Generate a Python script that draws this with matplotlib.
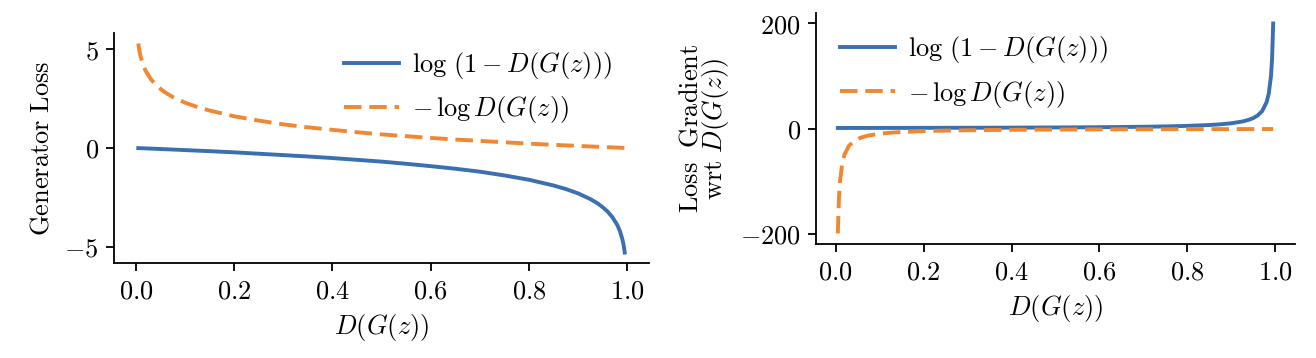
import matplotlib
matplotlib.use("Agg")
import matplotlib.pyplot as plt
from matplotlib.ticker import FuncFormatter, FixedLocator

plt.rcParams['mathtext.fontset'] = 'cm'
plt.rcParams['font.family'] = ['DejaVu Serif']
plt.rcParams['font.size'] = 19

# x values: D(G(z))
d_values = [0.005, 0.0075, 0.01, 0.015, 0.02, 0.03, 0.04, 0.05, 0.06, 0.075, 0.1,
            0.125, 0.15, 0.2, 0.25, 0.3, 0.35, 0.4, 0.45, 0.5, 0.55, 0.6, 0.65,
            0.7, 0.75, 0.8, 0.85, 0.875, 0.9, 0.925, 0.94, 0.95, 0.96, 0.97, 0.98,
            0.985, 0.99, 0.9925, 0.995]

# left panel: generator loss
loss_sat = [-0.005, -0.0075, -0.010, -0.015, -0.020, -0.030, -0.041, -0.051, -0.062, -0.078, -0.105,
            -0.134, -0.16, -0.22, -0.29, -0.36, -0.43, -0.51, -0.60, -0.69, -0.80, -0.92, -1.05,
            -1.20, -1.39, -1.61, -1.90, -2.08, -2.30, -2.59, -2.81, -3.00, -3.22, -3.51, -3.91,
            -4.20, -4.61, -4.89, -5.30]
loss_nonsat = [5.30, 4.89, 4.61, 4.20, 3.91, 3.51, 3.22, 3.00, 2.81, 2.59, 2.30,
               2.08, 1.90, 1.61, 1.39, 1.20, 1.05, 0.92, 0.80, 0.69, 0.60, 0.51, 0.43,
               0.36, 0.29, 0.22, 0.16, 0.134, 0.105, 0.078, 0.062, 0.051, 0.041, 0.030, 0.020,
               0.015, 0.010, 0.0075, 0.005]

# right panel: loss gradient
grad_sat = [1.005, 1.008, 1.01, 1.015, 1.02, 1.03, 1.04, 1.05, 1.06, 1.08, 1.11,
            1.14, 1.18, 1.25, 1.33, 1.43, 1.54, 1.67, 1.82, 2.0, 2.22, 2.5, 2.86,
            3.33, 4.0, 5.0, 6.67, 8.0, 10.0, 13.3, 16.7, 20.0, 25.0, 33.3, 50.0,
            66.7, 100.0, 133.0, 200.0]
grad_nonsat = [-200.0, -133.0, -100.0, -66.7, -50.0, -33.3, -25.0, -20.0, -16.7, -13.3, -10.0,
               -8.0, -6.67, -5.0, -4.0, -3.33, -2.86, -2.5, -2.22, -2.0, -1.82, -1.67, -1.54,
               -1.43, -1.33, -1.25, -1.18, -1.14, -1.11, -1.08, -1.06, -1.05, -1.04, -1.03, -1.02,
               -1.015, -1.01, -1.008, -1.005]

label_sat = r'$\log\,(1-D(G(z)))$'
label_nonsat = r'$-\,\log D(G(z))$'
xticks = [0.0, 0.2, 0.4, 0.6, 0.8, 1.0]
left_yticks = [-5, 0, 5]
right_yticks = [-200, 0, 200]

BLUE = '#3a6fb0'
ORANGE = '#f08732'
LW = 2.8

fig = plt.figure(figsize=(13.16, 3.58), dpi=100)
ax1 = fig.add_axes([0.0866, 0.2654, 0.4066, 0.6424])
ax2 = fig.add_axes([0.6201, 0.3184, 0.3639, 0.6453])

fmt1 = FuncFormatter(lambda v, p: r'$%.1f$' % v)
fmtint = FuncFormatter(lambda v, p: r'$%d$' % int(round(v)))

for ax, ys, yt, loc, anchor in [(ax1, (loss_sat, loss_nonsat), left_yticks, 'upper right', (0.976, 1.03)),
                                (ax2, (grad_sat, grad_nonsat), right_yticks, 'upper left', (0.0, 1.01))]:
    ax.plot(d_values, ys[0], color=BLUE, lw=LW, label=label_sat)
    ax.plot(d_values, ys[1], color=ORANGE, lw=LW, dashes=(4.5, 2.0), label=label_nonsat)
    ax.spines['top'].set_visible(False)
    ax.spines['right'].set_visible(False)
    for s in ('left', 'bottom'):
        ax.spines[s].set_linewidth(1.3)
    ax.tick_params(direction='out', length=6, width=1.3, labelsize=19, pad=5)
    ax.xaxis.set_major_locator(FixedLocator(xticks))
    ax.yaxis.set_major_locator(FixedLocator(yt))
    ax.xaxis.set_major_formatter(fmt1)
    ax.yaxis.set_major_formatter(fmtint)
    ax.set_xlabel(r'$D(G(z))$', fontsize=19, labelpad=6)
    ax.legend(loc=loc, bbox_to_anchor=anchor, frameon=False, fontsize=19,
              handlelength=2.1, handletextpad=0.5, labelspacing=0.5)

ax1.set_ylabel(r'$\mathrm{Generator\ Loss}$', fontsize=19, labelpad=8)
ax2.set_ylabel(r'$\mathrm{Loss\ \ Gradient}$' + '\n' + r'$\mathrm{wrt}\ D(G(z))$',
               fontsize=19, labelpad=6, linespacing=0.9)

fig.savefig('out.png', dpi=100)
